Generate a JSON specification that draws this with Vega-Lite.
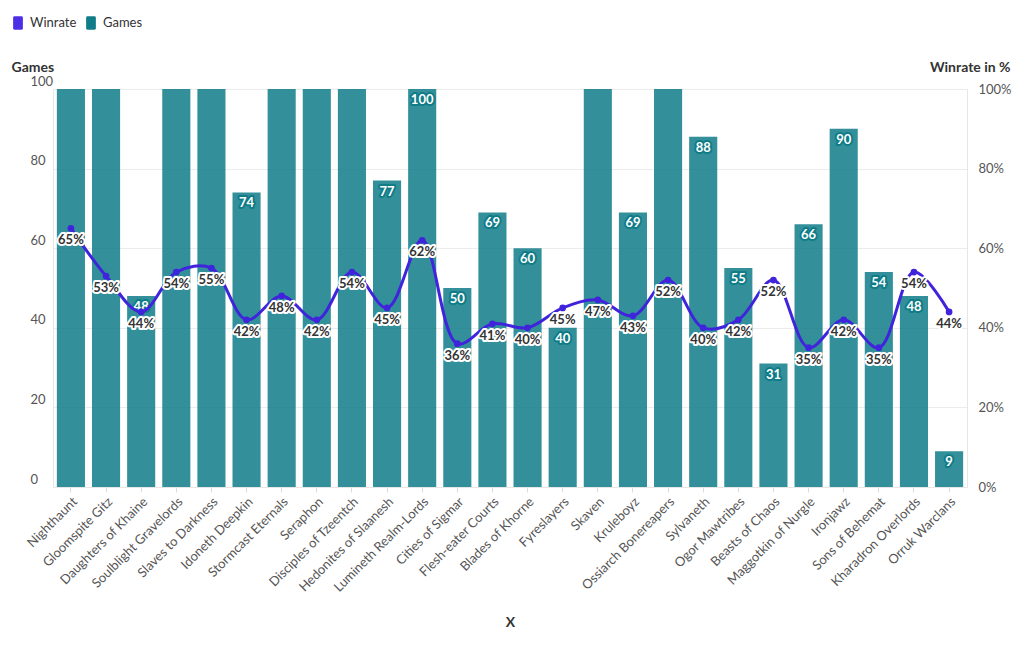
{
  "$schema": "https://vega.github.io/schema/vega-lite/v6.json",
  "width": 914,
  "height": 398,
  "autosize": "none",
  "padding": {"left": 53, "top": 89, "right": 53, "bottom": 163},
  "config": {
    "font": "Lato",
    "view": {"stroke": null},
    "axis": {"labelColor": "#555", "labelFontSize": 13, "titleColor": "#333", "titleFontSize": 14, "titleFontWeight": "bold", "domainColor": "#e6e6e6", "gridColor": "#ececec", "tickColor": "#dddddd"}
  },
  "data": {
    "values": [
      {"faction": "Nighthaunt", "Games": 180, "Winrate": 65},
      {"faction": "Gloomspite Gitz", "Games": 150, "Winrate": 53},
      {"faction": "Daughters of Khaine", "Games": 48, "Winrate": 44},
      {"faction": "Soulblight Gravelords", "Games": 130, "Winrate": 54},
      {"faction": "Slaves to Darkness", "Games": 170, "Winrate": 55},
      {"faction": "Idoneth Deepkin", "Games": 74, "Winrate": 42},
      {"faction": "Stormcast Eternals", "Games": 200, "Winrate": 48},
      {"faction": "Seraphon", "Games": 160, "Winrate": 42},
      {"faction": "Disciples of Tzeentch", "Games": 140, "Winrate": 54},
      {"faction": "Hedonites of Slaanesh", "Games": 77, "Winrate": 45},
      {"faction": "Lumineth Realm-Lords", "Games": 100, "Winrate": 62},
      {"faction": "Cities of Sigmar", "Games": 50, "Winrate": 36},
      {"faction": "Flesh-eater Courts", "Games": 69, "Winrate": 41},
      {"faction": "Blades of Khorne", "Games": 60, "Winrate": 40},
      {"faction": "Fyreslayers", "Games": 40, "Winrate": 45},
      {"faction": "Skaven", "Games": 120, "Winrate": 47},
      {"faction": "Kruleboyz", "Games": 69, "Winrate": 43},
      {"faction": "Ossiarch Bonereapers", "Games": 110, "Winrate": 52},
      {"faction": "Sylvaneth", "Games": 88, "Winrate": 40},
      {"faction": "Ogor Mawtribes", "Games": 55, "Winrate": 42},
      {"faction": "Beasts of Chaos", "Games": 31, "Winrate": 52},
      {"faction": "Maggotkin of Nurgle", "Games": 66, "Winrate": 35},
      {"faction": "Ironjawz", "Games": 90, "Winrate": 42},
      {"faction": "Sons of Behemat", "Games": 54, "Winrate": 35},
      {"faction": "Kharadron Overlords", "Games": 48, "Winrate": 54},
      {"faction": "Orruk Warclans", "Games": 9, "Winrate": 44}
    ]
  },
  "encoding": {
    "x": {
      "field": "faction", "type": "nominal", "sort": null,
      "scale": {"paddingInner": 0.2, "paddingOuter": 0.11},
      "axis": {"title": "X", "labelAngle": -45, "labelAlign": "right", "labelBaseline": "top", "tickSize": 5, "labelPadding": 3, "titleY": 135, "titleBaseline": "middle", "domain": true}
    }
  },
  "layer": [
    {
      "encoding": {
        "y": {
          "field": "Games", "type": "quantitative",
          "scale": {"domain": [0, 100], "nice": false},
          "axis": {"title": "Games", "orient": "left", "values": [0, 20, 40, 60, 80, 100], "ticks": false, "labelAlign": "left", "labelPadding": 23, "labelBaseline": "middle", "labelOffset": -8, "grid": true, "domain": true, "titleAngle": 0, "titleX": -42, "titleY": -22, "titleAlign": "left", "titleBaseline": "middle"}
        }
      },
      "layer": [
        {
          "mark": {"type": "bar", "clip": true, "opacity": 0.85},
          "encoding": {
            "color": {
              "datum": "Games", "type": "nominal",
              "scale": {"domain": ["Winrate", "Games"], "range": ["#4a2fe6", "#0f7c88"]},
              "legend": {"title": null, "orient": "none", "legendX": -45, "legendY": -76, "direction": "horizontal", "labelFontSize": 13, "labelColor": "#333", "symbolType": "M-0.35,-0.7 L0.35,-0.7 Q0.5,-0.7 0.5,-0.55 L0.5,0.55 Q0.5,0.7 0.35,0.7 L-0.35,0.7 Q-0.5,0.7 -0.5,0.55 L-0.5,-0.55 Q-0.5,-0.7 -0.35,-0.7 Z", "symbolSize": 380, "symbolOpacity": 1, "symbolStrokeWidth": 0, "columnPadding": 4, "labelOffset": 2}
            }
          }
        },
        {
          "transform": [{"filter": "datum.Games <= 100"}],
          "mark": {"type": "text", "baseline": "top", "dy": 5, "fontSize": 13, "fontWeight": "bold", "color": "#0f7c88", "stroke": "#0f7c88", "strokeWidth": 4, "strokeJoin": "round"},
          "encoding": {"text": {"field": "Games", "type": "quantitative"}}
        },
        {
          "transform": [{"filter": "datum.Games <= 100"}],
          "mark": {"type": "text", "baseline": "top", "dy": 5, "fontSize": 13, "fontWeight": "bold", "color": "#ffffff"},
          "encoding": {"text": {"field": "Games", "type": "quantitative"}}
        }
      ]
    },
    {
      "encoding": {
        "y": {
          "field": "Winrate", "type": "quantitative",
          "scale": {"domain": [0, 100], "nice": false},
          "axis": {"title": "Winrate in %", "orient": "right", "values": [0, 20, 40, 60, 80, 100], "labelExpr": "datum.value + '%'", "ticks": false, "labelPadding": 11, "grid": false, "domain": true, "titleAngle": 0, "titleX": 43, "titleY": -22, "titleAlign": "right", "titleBaseline": "middle"}
        }
      },
      "layer": [
        {"mark": {"type": "line", "interpolate": "catmull-rom", "color": "#4024dc", "strokeWidth": 3}},
        {"mark": {"type": "point", "filled": true, "size": 45, "opacity": 1, "color": "#4024dc"}},
        {
          "transform": [{"calculate": "datum.Winrate + '%'", "as": "wlabel"}],
          "mark": {"type": "text", "baseline": "middle", "dy": 12, "fontSize": 13, "fontWeight": "bold", "color": "#ffffff", "stroke": "#ffffff", "strokeWidth": 4, "strokeJoin": "round"},
          "encoding": {"text": {"field": "wlabel", "type": "nominal"}}
        },
        {
          "transform": [{"calculate": "datum.Winrate + '%'", "as": "wlabel"}],
          "mark": {"type": "text", "baseline": "middle", "dy": 12, "fontSize": 13, "fontWeight": "bold", "color": "#333333"},
          "encoding": {"text": {"field": "wlabel", "type": "nominal"}}
        }
      ]
    }
  ],
  "resolve": {"scale": {"y": "independent"}}
}
